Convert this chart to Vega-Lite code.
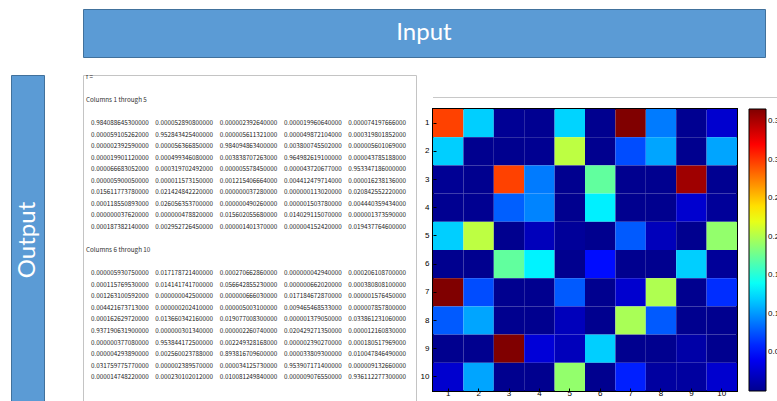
{
  "$schema": "https://vega.github.io/schema/vega-lite/v6.json",
  "background": "#ffffff",
  "padding": {"left": 10, "top": 8, "right": 0, "bottom": 0},
  "columns": 2,
  "align": "each",
  "spacing": {"row": 16, "column": 37},
  "resolve": {"scale": {"color": "independent"}, "legend": {"color": "independent"}},
  "concat": [
    {
      "width": 33, "height": 48,
      "data": {"values": []},
      "mark": "text",
      "view": {"stroke": null}
    },
    {
      "width": 682, "height": 48,
      "data": {"values": [{"label": "Input"}]},
      "view": {"fill": "#5B9BD5", "stroke": "#41719C", "strokeWidth": 1},
      "mark": {"type": "text", "font": "Lato", "fontSize": 24, "fill": "#ffffff", "align": "center", "baseline": "middle"},
      "encoding": {"text": {"field": "label"}}
    },
    {
      "width": 33, "height": 330,
      "data": {"values": [{"label": "Output"}]},
      "view": {"fill": "#5B9BD5", "stroke": "#41719C", "strokeWidth": 1},
      "mark": {"type": "text", "font": "Lato", "fontSize": 24, "fill": "#ffffff", "align": "center", "baseline": "middle", "angle": 270},
      "encoding": {"text": {"field": "label"}}
    },
    {
      "spacing": 0,
      "resolve": {"scale": {"color": "independent"}, "legend": {"color": "independent"}},
      "hconcat": [
        {
          "width": 333, "height": 330,
          "view": {"fill": "#ffffff", "stroke": "#c4c4c4", "strokeWidth": 1},
          "layer": [
            {
              "data": {"values": [
                {"line": -2, "col": 1, "val": "f ="},
                {"line": 0, "col": 1, "val": "Columns 1 through 5"},
                {"line": 13, "col": 1, "val": "Columns 6 through 10"}
              ]},
              "mark": {"type": "text", "align": "left", "baseline": "middle", "dx": -5, "clip": true, "font": "Noto Sans CJK SC", "fontSize": 6.3, "fill": "#333333"},
              "encoding": {
                "x": {"field": "col", "type": "quantitative", "scale": {"domain": [0.8756, 6.052], "nice": false, "zero": false}, "axis": null},
                "y": {"field": "line", "type": "quantitative", "scale": {"domain": [-2.1645, 26.407], "nice": false, "zero": false, "reverse": true}, "axis": null},
                "text": {"field": "val"}
              }
            },
            {
              "data": {"values": [
                {"line": 2, "col": 1, "val": "0.984088645300000"}, {"line": 2, "col": 2, "val": "0.000052890800000"}, {"line": 2, "col": 3, "val": "0.000002392640000"}, {"line": 2, "col": 4, "val": "0.000019960640000"}, {"line": 2, "col": 5, "val": "0.000074197666000"},
                {"line": 3, "col": 1, "val": "0.000059105262000"}, {"line": 3, "col": 2, "val": "0.952843425400000"}, {"line": 3, "col": 3, "val": "0.000005611321000"}, {"line": 3, "col": 4, "val": "0.000049872104000"}, {"line": 3, "col": 5, "val": "0.000319801852000"},
                {"line": 4, "col": 1, "val": "0.000002392590000"}, {"line": 4, "col": 2, "val": "0.000056366850000"}, {"line": 4, "col": 3, "val": "0.984094863400000"}, {"line": 4, "col": 4, "val": "0.003800745502000"}, {"line": 4, "col": 5, "val": "0.000005601069000"},
                {"line": 5, "col": 1, "val": "0.000019901120000"}, {"line": 5, "col": 2, "val": "0.000499346080000"}, {"line": 5, "col": 3, "val": "0.003838707263000"}, {"line": 5, "col": 4, "val": "0.964982619100000"}, {"line": 5, "col": 5, "val": "0.000043785188000"},
                {"line": 6, "col": 1, "val": "0.000066683052000"}, {"line": 6, "col": 2, "val": "0.000319702492000"}, {"line": 6, "col": 3, "val": "0.000005578450000"}, {"line": 6, "col": 4, "val": "0.000043720677000"}, {"line": 6, "col": 5, "val": "0.953347186000000"},
                {"line": 7, "col": 1, "val": "0.000005900050000"}, {"line": 7, "col": 2, "val": "0.000011573150000"}, {"line": 7, "col": 3, "val": "0.001215406664000"}, {"line": 7, "col": 4, "val": "0.004412479714000"}, {"line": 7, "col": 5, "val": "0.000016238136000"},
                {"line": 8, "col": 1, "val": "0.015611773780000"}, {"line": 8, "col": 2, "val": "0.021424842220000"}, {"line": 8, "col": 3, "val": "0.000000037280000"}, {"line": 8, "col": 4, "val": "0.000000113020000"}, {"line": 8, "col": 5, "val": "0.020842552220000"},
                {"line": 9, "col": 1, "val": "0.000118550893000"}, {"line": 9, "col": 2, "val": "0.026056353700000"}, {"line": 9, "col": 3, "val": "0.000000490260000"}, {"line": 9, "col": 4, "val": "0.000001503780000"}, {"line": 9, "col": 5, "val": "0.004440359434000"},
                {"line": 10, "col": 1, "val": "0.000000037620000"}, {"line": 10, "col": 2, "val": "0.000000478820000"}, {"line": 10, "col": 3, "val": "0.015602055680000"}, {"line": 10, "col": 4, "val": "0.014029115070000"}, {"line": 10, "col": 5, "val": "0.000001373590000"},
                {"line": 11, "col": 1, "val": "0.000187382140000"}, {"line": 11, "col": 2, "val": "0.002952726450000"}, {"line": 11, "col": 3, "val": "0.000001401370000"}, {"line": 11, "col": 4, "val": "0.000004152420000"}, {"line": 11, "col": 5, "val": "0.019437764600000"},
                {"line": 15, "col": 1, "val": "0.000005930750000"}, {"line": 15, "col": 2, "val": "0.017178721400000"}, {"line": 15, "col": 3, "val": "0.000270662860000"}, {"line": 15, "col": 4, "val": "0.000000042940000"}, {"line": 15, "col": 5, "val": "0.000206108700000"},
                {"line": 16, "col": 1, "val": "0.000115769530000"}, {"line": 16, "col": 2, "val": "0.014141741700000"}, {"line": 16, "col": 3, "val": "0.056642855230000"}, {"line": 16, "col": 4, "val": "0.000000662020000"}, {"line": 16, "col": 5, "val": "0.000380808100000"},
                {"line": 17, "col": 1, "val": "0.001263100592000"}, {"line": 17, "col": 2, "val": "0.000000042500000"}, {"line": 17, "col": 3, "val": "0.000000666030000"}, {"line": 17, "col": 4, "val": "0.017184672870000"}, {"line": 17, "col": 5, "val": "0.000001576450000"},
                {"line": 18, "col": 1, "val": "0.004421673713000"}, {"line": 18, "col": 2, "val": "0.000000202410000"}, {"line": 18, "col": 3, "val": "0.000005003100000"}, {"line": 18, "col": 4, "val": "0.009465468533000"}, {"line": 18, "col": 5, "val": "0.000007857800000"},
                {"line": 19, "col": 1, "val": "0.000162629720000"}, {"line": 19, "col": 2, "val": "0.013660342160000"}, {"line": 19, "col": 3, "val": "0.019077008300000"}, {"line": 19, "col": 4, "val": "0.000001379050000"}, {"line": 19, "col": 5, "val": "0.033861231060000"},
                {"line": 20, "col": 1, "val": "0.937190631900000"}, {"line": 20, "col": 2, "val": "0.000000301340000"}, {"line": 20, "col": 3, "val": "0.000002260740000"}, {"line": 20, "col": 4, "val": "0.020429271350000"}, {"line": 20, "col": 5, "val": "0.000012160830000"},
                {"line": 21, "col": 1, "val": "0.000000377080000"}, {"line": 21, "col": 2, "val": "0.953844172500000"}, {"line": 21, "col": 3, "val": "0.002249328168000"}, {"line": 21, "col": 4, "val": "0.000002390270000"}, {"line": 21, "col": 5, "val": "0.000180517969000"},
                {"line": 22, "col": 1, "val": "0.000004293890000"}, {"line": 22, "col": 2, "val": "0.002560023788000"}, {"line": 22, "col": 3, "val": "0.893816709600000"}, {"line": 22, "col": 4, "val": "0.000033809300000"}, {"line": 22, "col": 5, "val": "0.010047846490000"},
                {"line": 23, "col": 1, "val": "0.031759775770000"}, {"line": 23, "col": 2, "val": "0.000002389570000"}, {"line": 23, "col": 3, "val": "0.000034125730000"}, {"line": 23, "col": 4, "val": "0.953907171400000"}, {"line": 23, "col": 5, "val": "0.000009132660000"},
                {"line": 24, "col": 1, "val": "0.000014748220000"}, {"line": 24, "col": 2, "val": "0.000230102012000"}, {"line": 24, "col": 3, "val": "0.010081249840000"}, {"line": 24, "col": 4, "val": "0.000009076550000"}, {"line": 24, "col": 5, "val": "0.936112277300000"}
              ]},
              "mark": {"type": "text", "align": "left", "baseline": "middle", "font": "Noto Sans CJK SC", "fontSize": 6.3, "fill": "#222222"},
              "encoding": {
                "x": {"field": "col", "type": "quantitative", "axis": null},
                "y": {"field": "line", "type": "quantitative", "axis": null},
                "text": {"field": "val"}
              }
            }
          ]
        },
        {
          "spacing": 10,
          "resolve": {"scale": {"color": "independent"}, "legend": {"color": "independent"}},
          "vconcat": [
            {
              "width": 400, "height": 12,
              "data": {"values": []},
              "mark": "text",
              "view": {"stroke": null}
            },
            {
              "width": 400, "height": 1,
              "data": {"values": []},
              "mark": "text",
              "view": {"stroke": null, "fill": "#c8c8c8"}
            },
            {
              "width": 304, "height": 282,
              "view": {"stroke": "#000000", "strokeWidth": 2},
              "data": {"values": [
                {"r": 1, "c": 1, "v": 0.297}, {"r": 1, "c": 2, "v": 0.12}, {"r": 1, "c": 3, "v": 0.002}, {"r": 1, "c": 4, "v": 0.001}, {"r": 1, "c": 5, "v": 0.122}, {"r": 1, "c": 6, "v": 0.0}, {"r": 1, "c": 7, "v": 0.366}, {"r": 1, "c": 8, "v": 0.09}, {"r": 1, "c": 9, "v": 0.001}, {"r": 1, "c": 10, "v": 0.026},
                {"r": 2, "c": 1, "v": 0.12}, {"r": 2, "c": 2, "v": 0.0}, {"r": 2, "c": 3, "v": 0.0}, {"r": 2, "c": 4, "v": 0.001}, {"r": 2, "c": 5, "v": 0.205}, {"r": 2, "c": 6, "v": 0.0}, {"r": 2, "c": 7, "v": 0.073}, {"r": 2, "c": 8, "v": 0.105}, {"r": 2, "c": 9, "v": 0.0}, {"r": 2, "c": 10, "v": 0.105},
                {"r": 3, "c": 1, "v": 0.002}, {"r": 3, "c": 2, "v": 0.0}, {"r": 3, "c": 3, "v": 0.297}, {"r": 3, "c": 4, "v": 0.09}, {"r": 3, "c": 5, "v": 0.0}, {"r": 3, "c": 6, "v": 0.172}, {"r": 3, "c": 7, "v": 0.0}, {"r": 3, "c": 8, "v": 0.0}, {"r": 3, "c": 9, "v": 0.355}, {"r": 3, "c": 10, "v": 0.001},
                {"r": 4, "c": 1, "v": 0.001}, {"r": 4, "c": 2, "v": 0.001}, {"r": 4, "c": 3, "v": 0.08}, {"r": 4, "c": 4, "v": 0.093}, {"r": 4, "c": 5, "v": 0.0}, {"r": 4, "c": 6, "v": 0.132}, {"r": 4, "c": 7, "v": 0.0}, {"r": 4, "c": 8, "v": 0.0}, {"r": 4, "c": 9, "v": 0.026}, {"r": 4, "c": 10, "v": 0.004},
                {"r": 5, "c": 1, "v": 0.12}, {"r": 5, "c": 2, "v": 0.205}, {"r": 5, "c": 3, "v": 0.0}, {"r": 5, "c": 4, "v": 0.018}, {"r": 5, "c": 5, "v": 0.004}, {"r": 5, "c": 6, "v": 0.0}, {"r": 5, "c": 7, "v": 0.078}, {"r": 5, "c": 8, "v": 0.018}, {"r": 5, "c": 9, "v": 0.0}, {"r": 5, "c": 10, "v": 0.19},
                {"r": 6, "c": 1, "v": 0.0}, {"r": 6, "c": 2, "v": 0.0}, {"r": 6, "c": 3, "v": 0.172}, {"r": 6, "c": 4, "v": 0.133}, {"r": 6, "c": 5, "v": 0.0}, {"r": 6, "c": 6, "v": 0.05}, {"r": 6, "c": 7, "v": 0.0}, {"r": 6, "c": 8, "v": 0.0}, {"r": 6, "c": 9, "v": 0.12}, {"r": 6, "c": 10, "v": 0.004},
                {"r": 7, "c": 1, "v": 0.366}, {"r": 7, "c": 2, "v": 0.073}, {"r": 7, "c": 3, "v": 0.0}, {"r": 7, "c": 4, "v": 0.0}, {"r": 7, "c": 5, "v": 0.078}, {"r": 7, "c": 6, "v": 0.0}, {"r": 7, "c": 7, "v": 0.026}, {"r": 7, "c": 8, "v": 0.2}, {"r": 7, "c": 9, "v": 0.0}, {"r": 7, "c": 10, "v": 0.062},
                {"r": 8, "c": 1, "v": 0.078}, {"r": 8, "c": 2, "v": 0.105}, {"r": 8, "c": 3, "v": 0.0}, {"r": 8, "c": 4, "v": 0.0}, {"r": 8, "c": 5, "v": 0.018}, {"r": 8, "c": 6, "v": 0.0}, {"r": 8, "c": 7, "v": 0.198}, {"r": 8, "c": 8, "v": 0.078}, {"r": 8, "c": 9, "v": 0.0}, {"r": 8, "c": 10, "v": 0.0},
                {"r": 9, "c": 1, "v": 0.0}, {"r": 9, "c": 2, "v": 0.0}, {"r": 9, "c": 3, "v": 0.366}, {"r": 9, "c": 4, "v": 0.03}, {"r": 9, "c": 5, "v": 0.018}, {"r": 9, "c": 6, "v": 0.12}, {"r": 9, "c": 7, "v": 0.0}, {"r": 9, "c": 8, "v": 0.0}, {"r": 9, "c": 9, "v": 0.01}, {"r": 9, "c": 10, "v": 0.0},
                {"r": 10, "c": 1, "v": 0.026}, {"r": 10, "c": 2, "v": 0.105}, {"r": 10, "c": 3, "v": 0.0}, {"r": 10, "c": 4, "v": 0.0}, {"r": 10, "c": 5, "v": 0.19}, {"r": 10, "c": 6, "v": 0.0}, {"r": 10, "c": 7, "v": 0.057}, {"r": 10, "c": 8, "v": 0.007}, {"r": 10, "c": 9, "v": 0.007}, {"r": 10, "c": 10, "v": 0.026}
              ]},
              "mark": {"type": "rect"},
              "encoding": {
                "x": {
                  "field": "c", "type": "ordinal",
                  "scale": {"paddingInner": 0, "paddingOuter": 0},
                  "axis": {"title": null, "labelAngle": 0, "labelFont": "Liberation Sans", "labelFontSize": 8, "labelColor": "#000000", "domain": false, "tickSize": -3, "tickColor": "#000000", "labelPadding": 1, "zindex": 1}
                },
                "y": {
                  "field": "r", "type": "ordinal",
                  "scale": {"paddingInner": 0, "paddingOuter": 0},
                  "axis": {"title": null, "labelFont": "Liberation Sans", "labelFontSize": 8, "labelColor": "#000000", "domain": false, "tickSize": -3, "tickColor": "#000000", "labelPadding": 7, "minExtent": 15, "maxExtent": 15, "zindex": 1}
                },
                "color": {
                  "field": "v", "type": "quantitative",
                  "scale": {
                    "domain": [0, 0.04575, 0.13725, 0.22875, 0.32025, 0.366],
                    "range": ["#00008f", "#0000ff", "#00ffff", "#ffff00", "#ff0000", "#800000"],
                    "interpolate": "rgb"
                  },
                  "legend": {
                    "title": null, "orient": "right", "offset": 12, "padding": 0,
                    "direction": "vertical",
                    "gradientLength": 282, "gradientThickness": 17,
                    "gradientStrokeColor": "#000000", "gradientStrokeWidth": 1,
                    "values": [0.05, 0.1, 0.15, 0.2, 0.25, 0.3, 0.35],
                    "format": ".2f",
                    "labelFont": "Liberation Sans", "labelFontSize": 8, "labelColor": "#000000",
                    "labelOffset": 2, "labelOverlap": false
                  }
                }
              }
            }
          ]
        }
      ]
    }
  ]
}
